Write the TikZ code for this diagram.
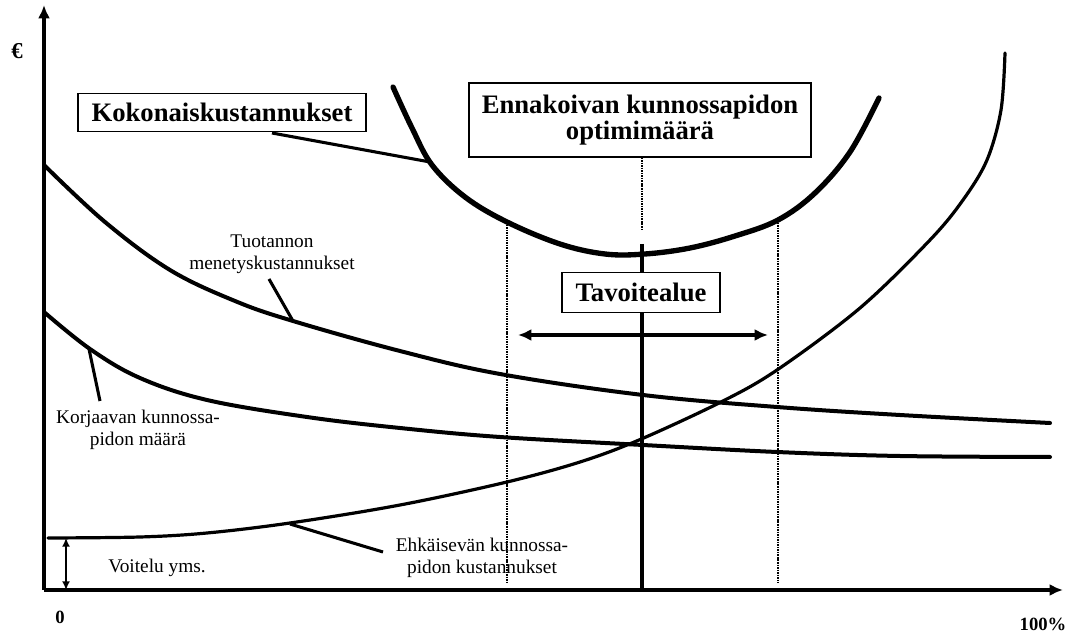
\documentclass[tikz,border=0pt]{standalone}
\usepackage{fontspec}
\setmainfont{Liberation Serif}
\usetikzlibrary{arrows.meta}
\begin{document}
\begin{tikzpicture}[x=0.75pt,y=-0.75pt,
  axis/.style={line width=3.4pt,-{Latex[length=10pt,width=9pt]}},
  curve/.style={line width=3pt,line join=round,line cap=round},
  thincurve/.style={line width=2.4pt,line join=round,line cap=round},
  ucurve/.style={line width=4pt,line join=round,line cap=round},
  conn/.style={line width=2.3pt},
  dotline/.style={line width=2pt,dash pattern=on 1.2pt off 0.7pt},
  bigbox/.style={draw,line width=0.9pt,fill=white,align=center,inner sep=2pt,
    font=\bfseries\fontsize{20}{20}\selectfont},
  smalltxt/.style={align=center,inner sep=0pt,font=\fontsize{14.5}{16.5}\selectfont},
  axlabel/.style={inner sep=0pt,font=\bfseries\fontsize{14}{14}\selectfont}]
\useasboundingbox (0,0) rectangle (1079,634);

% axes
\coordinate (O) at (44,590);
\coordinate (Ytop) at (44,5);
\coordinate (Xend) at (1063,590);
\draw[axis] (O) -- (Ytop);
\draw[axis] (O) -- (Xend);
\node[axlabel,font=\bfseries\fontsize{17}{17}\selectfont] (euro) at (17,51) {€};
\node[axlabel] (zero) at (60,617) {0};
\node[axlabel] (hundred) at (1043,624) {100\%};

% dotted vertical lines
\coordinate (dl1) at (507,222); \coordinate (dl2) at (507,583);
\coordinate (dr1) at (778,220); \coordinate (dr2) at (778,583);
\draw[dotline] (dl1) -- (dl2);
\draw[dotline] (dr1) -- (dr2);

% total cost curve
\draw[ucurve] plot[smooth,tension=0.6] coordinates {(393,87) (412,128) (432,165) (465,197) (507,222) (560,244) (605,254) (645,254) (690,248) (735,236) (778,220) (815,193) (850,152) (879,98)};
\coordinate (ukon) at (430,162);

% production loss curve
\draw[curve] plot[smooth,tension=0.6] coordinates {(44,165) (105,222) (170,270) (235,301) (293,321) (400,351) (500,374) (643,395) (777,407) (900,415) (1050,423)};
\coordinate (tuoc) at (293,321);

% corrective maintenance curve
\draw[curve] plot[smooth,tension=0.6] coordinates {(44,312) (90,349) (140,378) (207,400) (307,417) (400,428) (500,437) (643,445) (777,452) (900,456) (1050,457)};
\coordinate (korc) at (89,349);

% preventive maintenance curve
\draw[thincurve] plot[smooth,tension=0.55] coordinates {(48,538) (140,537) (207,533) (290,523) (400,505) (507,482) (580,462) (639,440) (721,402) (777,370) (860,308) (930,240) (963,200) (987,160) (1001,110) (1005,53)};
\coordinate (ehkc) at (290,524);

% solid vertical optimum line
\coordinate (v1) at (642,244);
\coordinate (v2) at (642,590);
\draw[line width=3pt] (v1) -- (v2);

% boxes
\node[bigbox,minimum width=216pt,minimum height=29pt] (kok) at (222,112.5) {Kokonaiskustannukset};
\node[bigbox,minimum width=256.5pt,minimum height=55.5pt] (enn) at (640,120) {Ennakoivan kunnossapidon\\optimimäärä};
\node[bigbox,minimum width=118.5pt,minimum height=30.5pt] (tav) at (641,292.5) {Tavoitealue};

% dotted from optimum box
\coordinate (encd) at (642,230);
\draw[dotline] (enn.south -| encd) -- (encd);

% target range arrow
\coordinate (ta1) at (518,335);
\coordinate (ta2) at (768,335);
\draw[line width=2.4pt,{Latex[length=10pt,width=9pt]}-{Latex[length=10pt,width=9pt]}] (ta1) -- (ta2);

% voitelu arrow
\coordinate (va1) at (66,538);
\coordinate (va2) at (66,590);
\draw[line width=1.6pt,{Latex[length=6.5pt,width=6pt]}-{Latex[length=6.5pt,width=6pt]}] (va1) -- (va2);

% labels
\node[smalltxt] (tuo) at (272,254) {Tuotannon\\menetyskustannukset};
\node[smalltxt] (kor) at (138,430) {Korjaavan kunnossa-\\pidon määrä};
\node[smalltxt] (voi) at (157,568) {Voitelu yms.};
\node[smalltxt] (ehk) at (482,558) {Ehkäisevän kunnossa-\\pidon kustannukset};

% label connectors
\coordinate (kokc) at (272,133);
\draw[conn] (kokc) -- (ukon);
\coordinate (tuos) at (269,279);
\draw[conn] (tuos) -- (tuoc);
\coordinate (kors) at (100,401);
\draw[conn] (kors) -- (korc);
\coordinate (ehks) at (383,552);
\draw[conn] (ehks) -- (ehkc);
\end{tikzpicture}
\end{document}
